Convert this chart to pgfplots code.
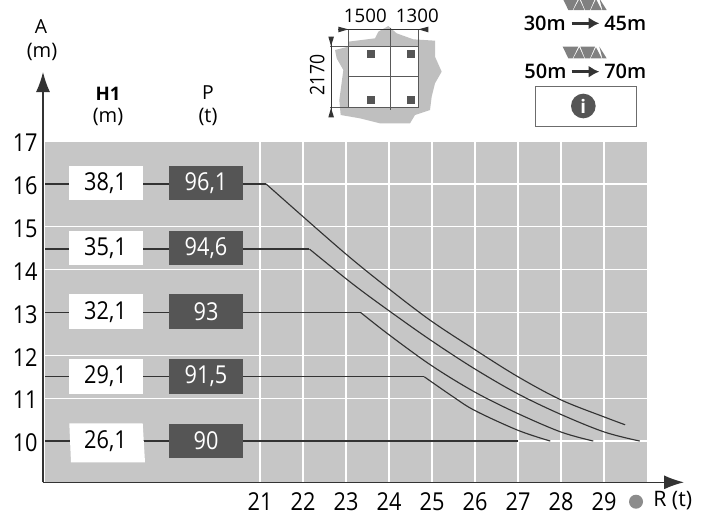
\documentclass[border=0pt]{standalone}
\usepackage{fontspec}
\setmainfont{Open Sans}
\newfontfamily\narrowfont{Open Sans}[FakeStretch=0.88]
\newfontfamily\semifont{Open Sans Semibold}
\usepackage{pgfplots}
\pgfplotsset{compat=1.18}
\usetikzlibrary{arrows.meta}
\definecolor{panel}{HTML}{C6C6C6}
\definecolor{darkbox}{HTML}{555555}
\definecolor{curve}{HTML}{333333}
\newcommand{\fs}[1]{\fontsize{#1}{#1}\selectfont}
\begin{document}
\begin{tikzpicture}
\begin{axis}[
  at={(33.75pt,-361.3pt)}, anchor=south west,
  scale only axis, width=451.5pt, height=255.5pt,
  xmin=16, xmax=30, ymin=9.05, ymax=17,
  xtick={21,...,29}, ytick={10,...,17},
  axis line style={draw=none},
  axis background/.style={fill=panel},
  grid=major, grid style={white,line width=0.95pt},
  major tick length=0pt,
  tick label style={font=\narrowfont\fs{18.5}, /pgf/number format/assume math mode=true},
  xticklabel style={yshift=-4.5pt},
  yticklabel style={xshift=-2pt,yshift=-1.5pt},
  clip=false,
]
% horizontal runs
\addplot[curve,line width=0.9pt] coordinates {(16,16) (21.14,16)};
\addplot[curve,line width=0.9pt] coordinates {(16,14.48) (22.15,14.48)};
\addplot[curve,line width=0.9pt] coordinates {(16,13) (23.34,13)};
\addplot[curve,line width=0.9pt] coordinates {(16,11.5) (24.82,11.5)};
\addplot[curve,line width=1.1pt] coordinates {(16,10) (27,10)};
% falling parts
\addplot[curve,line width=0.85pt,smooth,tension=0.55] coordinates {(21.14,16) (22.92,14.43) (24,13.55) (24.97,12.81) (26,12.13) (27,11.5) (28,10.96) (29.01,10.56) (29.49,10.38)};
\addplot[curve,line width=0.85pt,smooth,tension=0.55] coordinates {(22.15,14.48) (23.15,13.67) (24,13.04) (24.99,12.34) (26,11.68) (27,11.1) (28,10.62) (29.01,10.21) (29.83,10)};
\addplot[curve,line width=0.85pt,smooth,tension=0.55] coordinates {(23.34,13) (24,12.48) (24.99,11.76) (26,11.14) (27,10.64) (28,10.21) (28.75,10)};
\addplot[curve,line width=0.85pt,smooth,tension=0.55] coordinates {(24.82,11.5) (25.48,11.04) (26,10.71) (27,10.25) (27.75,10)};
\end{axis}
\begin{scope}[x=0.75pt,y=-0.75pt]
% axes with arrows
\draw[curve,line width=1pt,-{Latex[length=15pt,width=10.5pt]}] (43,482.3) -- (43,72);
\draw[curve,line width=1pt,-{Latex[length=15pt,width=10.5pt]}] (43,482.3) -- (684,482.3);
% boxes
\tikzset{wb/.style={fill=white,inner sep=0,minimum width=55.5pt,minimum height=26pt,text=black,font=\narrowfont\fs{18.5}},
  db/.style={fill=darkbox,inner sep=0,minimum width=55.5pt,minimum height=26pt,text=white,font=\narrowfont\fs{18.5}}}
\node[wb] at (105.5,183) {38,1};
\node[wb] at (105.5,248) {35,1};
\node[wb] at (105.5,311.7) {32,1};
\node[wb] at (105.5,376.3) {29,1};
\fill[white] (69.3,423.3) -- (142.7,423.3) -- (145,462.3) -- (71,462.3) -- cycle;
\node[font=\narrowfont\fs{18.5}] at (105.5,441) {26,1};
\node[db] at (206,183) {96,1};
\node[db] at (206,248) {94,6};
\node[db] at (206,311.7) {93};
\node[db] at (206,376.3) {91,5};
\node[db] at (206,441) {90};
% headers
\node[font=\fs{14.5}] at (41,27) {A};
\node[font=\fs{15}] at (42,52) {(m)};
\node[font=\bfseries\fs{14}] at (108,94) {H1};
\node[font=\fs{15}] at (108,117) {(m)};
\node[font=\fs{14.5}] at (208,93) {P};
\node[font=\fs{15}] at (208,117) {(t)};
% R label
\fill[gray!90] (636,501.7) circle (7);
\node[font=\fs{16},anchor=west,inner sep=0] at (653,501) {R (t)};
% footprint sketch, pixel coordinates
\begin{scope}[shift={(300,0)},x=0.25pt,y=-0.25pt]
\fill[gray!50] (145,140) -- (105,150) -- (110,175) -- (130,210) -- (118,300) -- (122,345) -- (180,355) -- (240,370) -- (330,370) -- (345,345) -- (390,330) -- (395,290) -- (405,250) -- (425,215) -- (405,170) -- (405,122) -- (340,118) -- (290,100) -- (265,78) -- (235,95) -- (225,115) -- (145,125) -- cycle;
\fill[white] (145,140) rectangle (355,322);
\draw[gray!70!black,line width=0.8pt] (145,88) -- (145,322) -- (355,322) -- (355,88);
\draw[gray!70!black,line width=0.8pt] (272,85) -- (272,330);
\draw[gray!70!black,line width=0.8pt] (145,230) -- (355,230);
\draw[gray!70!black,line width=0.8pt] (90,140) -- (355,140);
\draw[gray!70!black,line width=0.5pt] (90,322) -- (145,322);
\draw[curve,line width=0.5pt] (93,110) -- (93,350);
\draw[curve,line width=0.5pt] (115,88) -- (385,88);
\fill[curve] (115,80) -- (145,88) -- (115,97) -- cycle;
\fill[curve] (385,80) -- (355,88) -- (385,97) -- cycle;
\fill[curve] (85,110) -- (102,110) -- (93,138) -- cycle;
\fill[curve] (85,352) -- (102,352) -- (93,324) -- cycle;
\foreach \cx/\cy in {212/161,333/161,212/301,333/301}
  \fill[darkbox] (\cx-12,\cy-12) rectangle (\cx+12,\cy+12);
\node[font=\fs{14}] at (196,47) {1500};
\node[font=\fs{14}] at (352,47) {1300};
\node[font=\narrowfont\fs{15},rotate=90] at (52,225) {2170};
% truss icons
\foreach \oy in {-145,0}{
  \fill[gray] (788,\oy+140) -- (835,\oy+140) -- (818,\oy+175) -- (805,\oy+175) -- cycle;
  \fill[gray] (820,\oy+175) -- (838,\oy+142) -- (853,\oy+175) -- cycle;
  \fill[gray] (855,\oy+175) -- (841,\oy+140) -- (885,\oy+140) -- (870,\oy+175) -- cycle;
  \fill[gray] (872,\oy+175) -- (888,\oy+142) -- (905,\oy+175) -- cycle;
  \fill[gray] (907,\oy+175) -- (898,\oy+140) -- (920,\oy+175) -- cycle;
}
\node[font=\semifont\fs{15},anchor=east,inner sep=0] at (798,70) {30m};
\node[font=\semifont\fs{15},anchor=west,inner sep=0] at (912,70) {45m};
\node[font=\semifont\fs{15},anchor=east,inner sep=0] at (800,213) {50m};
\node[font=\semifont\fs{15},anchor=west,inner sep=0] at (912,213) {70m};
\draw[curve,line width=2pt,-{Latex[length=8pt,width=9pt]}] (815,70) -- (898,70);
\draw[curve,line width=2pt,-{Latex[length=8pt,width=9pt]}] (815,215) -- (898,215);
\draw[gray!85!black,line width=0.6pt] (706,260) rectangle (1010,380);
\fill[darkbox] (850,318) circle (37);
\node[text=white,font=\bfseries\fs{14}] at (850,318) {i};
\end{scope}
% fix the page to the reference's size
\pgfresetboundingbox
\useasboundingbox (0,0) rectangle (706,515);
\end{scope}
\end{tikzpicture}
\end{document}
